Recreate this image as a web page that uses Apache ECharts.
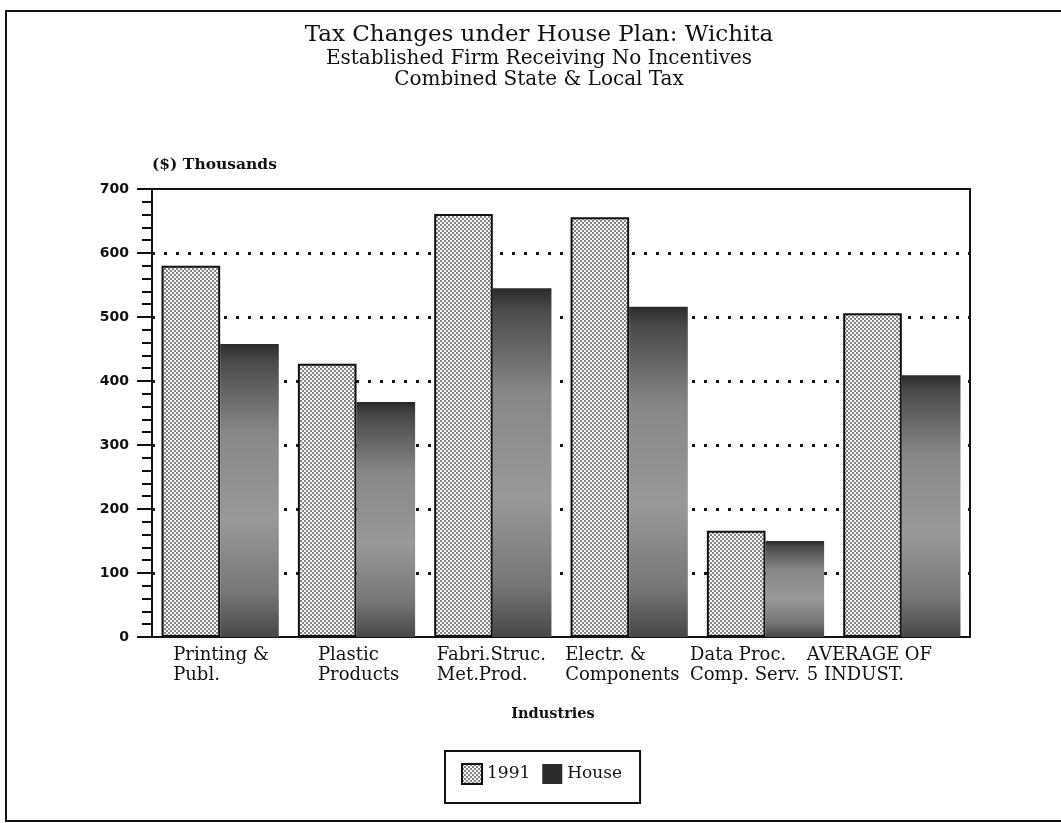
<!DOCTYPE html>
<html>
<head>
<meta charset="utf-8">
<script src="https://cdn.jsdelivr.net/npm/echarts@6/dist/echarts.min.js"></script>
<style>
  html, body { margin: 0; padding: 0; background: #ffffff; }
  #chart { width: 1061px; height: 823px; }
</style>
</head>
<body>
<div id="chart"></div>
<script>
// Industries on the category axis (line break inside each label)
const categories = [
  'Printing &\nPubl.',
  'Plastic\nProducts',
  'Fabri.Struc.\nMet.Prod.',
  'Electr. &\nComponents',
  'Data Proc.\nComp. Serv.',
  'AVERAGE OF\n5 INDUST.'
];
// Combined state & local tax, thousands of dollars
const tax1991 = [580, 427, 661, 656, 166, 506];
const taxHouse = [458, 367, 545, 516, 150, 409];
const yTicks = [0, 100, 200, 300, 400, 500, 600, 700];

// Width of the text block under each category; lines are left-aligned inside it
const labelBlockWidths = [94, 77, 112, 128, 151, 190];

const SERIF = '"DejaVu Serif", "Liberation Serif", serif';
const INK = '#111111';

// Dotted gridlines only between the axis frame lines (none at 0 or at the top edge)
const gridDotColors = yTicks.map((t, i) =>
  (i === 0 || i === yTicks.length - 1) ? 'rgba(0,0,0,0)' : '#1a1a1a');

// Halftone dot fill for the 1991 bars
function halftone() {
  const c = document.createElement('canvas');
  c.width = 4; c.height = 4;
  const g = c.getContext('2d');
  g.fillStyle = '#f4f4f4';
  g.fillRect(0, 0, 4, 4);
  g.fillStyle = '#858585';
  g.fillRect(0, 0, 2, 2);
  g.fillRect(2, 2, 2, 2);
  return c;
}

// Shaded fill for the House bars: dark top, lighter body, darker foot
const houseFill = new echarts.graphic.LinearGradient(0, 0, 0, 1, [
  { offset: 0, color: '#2a2a2a' },
  { offset: 0.06, color: '#4a4a4a' },
  { offset: 0.3, color: '#878787' },
  { offset: 0.6, color: '#999999' },
  { offset: 0.85, color: '#767676' },
  { offset: 1, color: '#474747' }
]);

const rich = {};
labelBlockWidths.forEach((w, i) => {
  rich['c' + i] = {
    width: w, align: 'left',
    fontFamily: SERIF, fontSize: 18, color: INK, lineHeight: 20
  };
});

const chart = echarts.init(document.getElementById('chart'), null, { renderer: 'canvas' });

chart.setOption({
  backgroundColor: '#ffffff',
  animation: false,
  title: {
    text: 'Tax Changes under House Plan: Wichita',
    subtext: 'Established Firm Receiving No Incentives\nCombined State & Local Tax',
    left: 539,
    top: 23,
    textAlign: 'center',
    itemGap: 0,
    padding: 0,
    textStyle: { fontFamily: SERIF, fontSize: 23, fontWeight: 'normal', color: INK, lineHeight: 25 },
    subtextStyle: { fontFamily: SERIF, fontSize: 20, color: INK, lineHeight: 21 }
  },
  legend: {
    left: 445,
    top: 751,
    padding: [12, 18, 18, 16],
    borderColor: INK,
    borderWidth: 2,
    icon: 'rect',
    itemWidth: 20,
    itemHeight: 20,
    itemGap: 12,
    textStyle: { fontFamily: SERIF, fontSize: 17, color: INK },
    data: [
      { name: '1991' },
      { name: 'House', itemStyle: { color: '#2a2a2a', borderWidth: 0 } }
    ]
  },
  grid: {
    left: 152, right: 91, top: 189, bottom: 186,
    show: true, borderColor: INK, borderWidth: 2
  },
  xAxis: {
    type: 'category',
    data: categories,
    name: 'Industries',
    nameLocation: 'middle',
    nameGap: 70,
    nameTextStyle: { fontFamily: SERIF, fontSize: 14.5, fontWeight: 'bold', color: INK, padding: [0, 16, 0, 0] },
    axisLine: { lineStyle: { color: INK, width: 2 } },
    axisTick: { show: false },
    axisLabel: {
      interval: 0,
      margin: 8,
      align: 'center',
      formatter: (value, index) => value.split('\n').map(l => '{c' + index + '|' + l + '}').join('\n'),
      rich: rich
    },
    splitLine: { show: false }
  },
  yAxis: {
    type: 'value',
    min: yTicks[0],
    max: yTicks[yTicks.length - 1],
    interval: yTicks[1] - yTicks[0],
    name: '($) Thousands',
    nameLocation: 'end',
    nameGap: 24,
    nameTextStyle: { fontFamily: SERIF, fontSize: 15.5, fontWeight: 'bold', color: INK, align: 'left', verticalAlign: 'middle' },
    axisLine: { show: true, lineStyle: { color: INK, width: 2 } },
    axisTick: { show: true, length: 15, lineStyle: { color: INK, width: 2 } },
    minorTick: { show: true, splitNumber: 5, length: 10, lineStyle: { color: INK, width: 2 } },
    axisLabel: {
      margin: 23,
      fontFamily: '"DejaVu Sans", sans-serif',
      fontWeight: 'bold',
      fontSize: 14,
      color: INK
    },
    splitLine: { show: true, lineStyle: { color: gridDotColors, width: 3, type: [3, 9] } },
    minorSplitLine: { show: false }
  },
  series: [
    {
      name: '1991',
      type: 'bar',
      data: tax1991,
      barGap: '0%',
      barCategoryGap: '14%',
      itemStyle: {
        color: { image: halftone(), repeat: 'repeat' },
        borderColor: INK,
        borderWidth: 2
      }
    },
    {
      name: 'House',
      type: 'bar',
      data: taxHouse,
      barGap: '0%',
      barCategoryGap: '14%',
      itemStyle: { color: houseFill, borderWidth: 0 }
    }
  ],
  graphic: [
    {
      type: 'rect',
      silent: true,
      shape: { x: 6, y: 11, width: 1100, height: 810 },
      style: { fill: 'none', stroke: INK, lineWidth: 2 }
    }
  ]
});
</script>
</body>
</html>
